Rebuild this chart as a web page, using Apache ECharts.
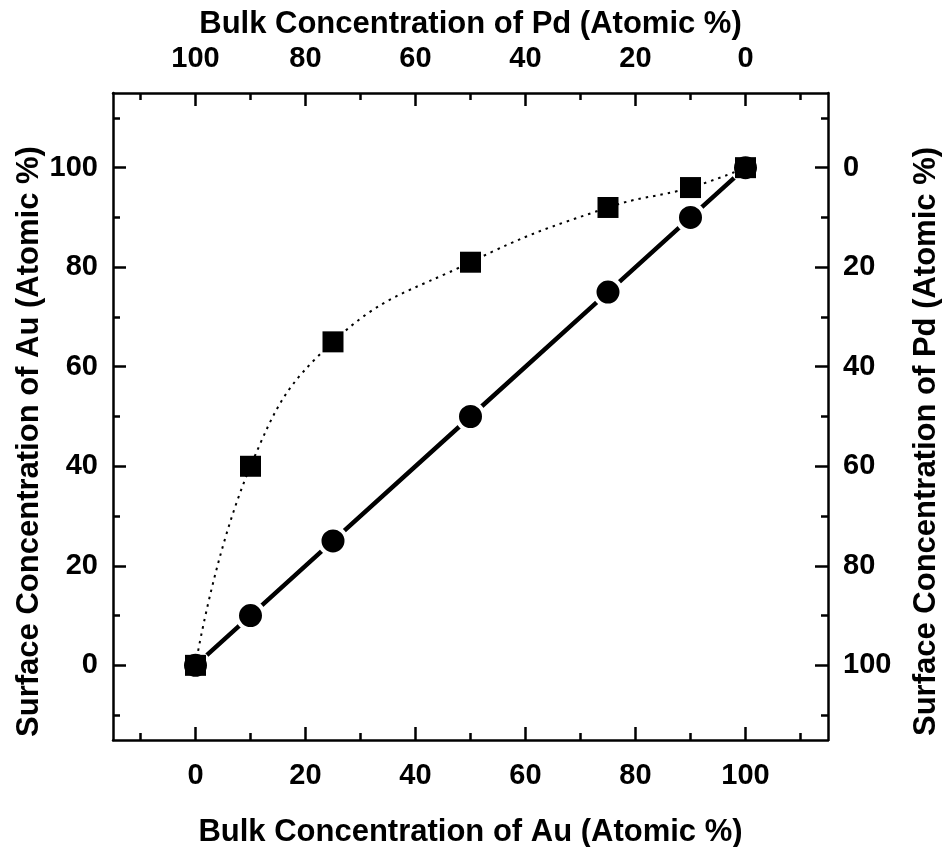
<!DOCTYPE html>
<html>
<head>
<meta charset="utf-8">
<script src="https://cdn.jsdelivr.net/npm/echarts@6/dist/echarts.min.js"></script>
<style>
  html, body { margin: 0; padding: 0; background: #fff; }
  #chart { width: 943px; height: 847px; }
</style>
</head>
<body>
<div id="chart"></div>
<script>
// Bulk Au concentration (atomic %) for each sample
const bulkAu = [0, 10, 25, 50, 75, 90, 100];
// Measured surface Au concentration (atomic %)
const surfaceAu = [0, 40, 65, 81, 92, 96, 100];
// Reference: surface equal to bulk
const idealAu = [0, 10, 25, 50, 75, 90, 100];

// Tick positions shared by every axis
const majorTicks = [0, 20, 40, 60, 80, 100];
const minorTicks = [-10, 10, 30, 50, 70, 90, 110];

const FONT = 'Liberation Sans, Arial, sans-serif';
const INK = '#000';

function labelStyle(margin) {
  return {
    show: true, customValues: majorTicks, margin: margin,
    color: INK, fontFamily: FONT, fontWeight: 'bold', fontSize: 29
  };
}

function frameAxis(extra) {
  return Object.assign({
    type: 'value',
    min: -15,
    max: 115,
    splitLine: { show: false },
    axisLine: { show: true, onZero: false, lineStyle: { color: INK, width: 2.5 } },
    axisTick: {
      show: true, inside: true, length: 13,
      customValues: majorTicks,
      lineStyle: { color: INK, width: 2.5 }
    },
    nameLocation: 'middle',
    nameMoveOverlap: false,
    nameTextStyle: { color: INK, fontFamily: FONT, fontWeight: 'bold', fontSize: 31 }
  }, extra);
}

function minorAxis(extra) {
  return Object.assign({
    type: 'value',
    min: -15,
    max: 115,
    splitLine: { show: false },
    axisLine: { show: false, onZero: false },
    axisTick: {
      show: true, inside: true, length: 7,
      customValues: minorTicks,
      lineStyle: { color: INK, width: 2.5 }
    },
    axisLabel: { show: false }
  }, extra);
}

// vertical titles sit a little below the plot centre
const sideNameStyle = {
  color: INK, fontFamily: FONT, fontWeight: 'bold', fontSize: 31,
  padding: [0, 50, 0, 0]
};

const xAxes = [
  frameAxis({ position: 'bottom', name: 'Bulk Concentration of Au (Atomic %)', nameGap: 77,
    axisLabel: labelStyle(21) }),
  frameAxis({ position: 'top', inverse: true, name: 'Bulk Concentration of Pd (Atomic %)', nameGap: 53,
    axisLabel: labelStyle(20) }),
  minorAxis({ position: 'bottom' }),
  minorAxis({ position: 'top', inverse: true })
];

const yAxes = [
  frameAxis({ position: 'left', name: 'Surface Concentration of Au (Atomic %)', nameGap: 68,
    nameTextStyle: sideNameStyle, axisLabel: labelStyle(15) }),
  frameAxis({ position: 'right', inverse: true, name: 'Surface Concentration of Pd (Atomic %)', nameGap: 83,
    nameTextStyle: sideNameStyle, axisLabel: labelStyle(15) }),
  minorAxis({ position: 'left' }),
  minorAxis({ position: 'right', inverse: true })
];

const chart = echarts.init(document.getElementById('chart'), null, { renderer: 'canvas' });
chart.setOption({
  backgroundColor: '#fff',
  animation: false,
  grid: { left: 113, right: 115, top: 93, bottom: 107, containLabel: false, outerBoundsMode: 'none' },
  xAxis: xAxes,
  yAxis: yAxes,
  series: [
    {
      name: 'ideal',
      type: 'line',
      xAxisIndex: 0,
      yAxisIndex: 0,
      data: bulkAu.map((x, i) => [x, idealAu[i]]),
      symbol: 'circle',
      symbolSize: 27,
      itemStyle: { color: INK, borderColor: '#fff', borderWidth: 4 },
      lineStyle: { color: INK, width: 4.5 },
      z: 2
    },
    {
      name: 'surface',
      type: 'line',
      xAxisIndex: 0,
      yAxisIndex: 0,
      data: bulkAu.map((x, i) => [x, surfaceAu[i]]),
      smooth: 0.45,
      symbol: 'rect',
      symbolSize: 21,
      itemStyle: { color: INK },
      lineStyle: { color: INK, width: 2, type: [2.5, 5] },
      z: 3
    }
  ]
});
</script>
</body>
</html>
